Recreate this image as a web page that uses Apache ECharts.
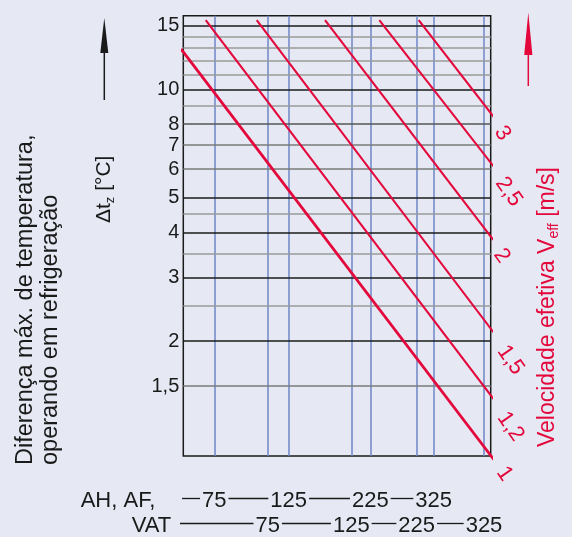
<!DOCTYPE html>
<html>
<head>
<meta charset="utf-8">
<script src="https://cdn.jsdelivr.net/npm/echarts@6/dist/echarts.min.js"></script>
<style>
html, body { margin: 0; padding: 0; background: #e6e9f3; }
#chart { width: 572px; height: 537px; }
</style>
</head>
<body>
<div id="chart"></div>
<script>
// eixo y (log): linhas com rótulo e linhas auxiliares
var yTicks = [1.5, 2, 3, 4, 5, 6, 7, 8, 10, 15];
var yTickLabels = ['1,5', '2', '3', '4', '5', '6', '7', '8', '10', '15'];
var yMajor = [2, 3, 4, 5, 10, 15];
var yMinor = [2.5, 3.5, 4.5, 9, 11, 12, 13, 14];

// escalas de baixo (posição no eixo x de 0 a 100)
var ahValues = ['75', '125', '225', '325'];
var ahPos = [10.08, 34.29, 60.83, 81.46];
var vatValues = ['75', '125', '225', '325'];
var vatPos = [27.46, 54.65, 75.93, 97.82];

// retas de velocidade efetiva
var velocities = ['1', '1,2', '1,5', '2', '2,5', '3'];
var lineStart = [[-0.75, 12.94], [7.29, 15.56], [23.88, 15.56], [46.1, 15.56], [63.76, 15.56], [76.58, 15.56]];
var lineEnd = [[102.05, 0.913], [101.95, 1.346], [101.95, 2.06], [100.85, 3.82], [101.4, 6.04], [101.07, 8.36]];

var font = '"Liberation Sans", Arial, sans-serif';
var red = '#e3073c';
var ink = '#1a1a1a';

var chart = echarts.init(document.getElementById('chart'));

var hLines = [];
yTicks.forEach(function (v, i) {
    var major = yMajor.indexOf(v) >= 0;
    hLines.push({
        yAxis: v,
        lineStyle: { color: major ? ink : (v === 8 ? '#555' : '#7a7a7a'), width: 1.5 },
        label: { show: true, formatter: yTickLabels[i] }
    });
});
yMinor.forEach(function (v) {
    hLines.push({ yAxis: v, lineStyle: { color: '#9a9a9a', width: 1.5 }, label: { show: false } });
});

var vLines = ahPos.concat(vatPos).map(function (v) { return { xAxis: v }; });

var series = [
    {
        type: 'line', data: [], silent: true,
        markLine: {
            silent: true, symbol: 'none', animation: false, z: 1,
            label: { show: false },
            lineStyle: { color: '#6f84c8', width: 1.5, type: 'solid' },
            data: vLines
        }
    },
    {
        type: 'line', data: [], silent: true,
        markLine: {
            silent: true, symbol: 'none', animation: false, z: 2,
            label: { position: 'start', distance: 4, color: ink, fontSize: 20, fontFamily: font },
            lineStyle: { type: 'solid' },
            data: hLines
        }
    }
];

velocities.forEach(function (v, i) {
    series.push({
        type: 'line',
        name: v,
        z: 10,
        clip: false,
        silent: true,
        animation: false,
        symbol: 'circle',
        symbolSize: 0.01,
        showSymbol: true,
        itemStyle: { color: red },
        lineStyle: { color: red, width: i === 0 ? 2.7 : 2.1 },
        data: [
            lineStart[i],
            {
                value: lineEnd[i],
                label: {
                    show: true, formatter: v, position: i === 0 ? [4, 5] : [5, 11], rotate: -55,
                    align: 'left', verticalAlign: 'middle',
                    color: red, fontSize: 22, fontFamily: font
                }
            }
        ]
    });
});

chart.setOption({
    backgroundColor: '#e6e9f3',
    animation: false,
    grid: {
        left: 183.3, right: 81.3, top: 15.7, bottom: 81,
        show: true, borderColor: ink, borderWidth: 1.5,
        backgroundColor: 'transparent',
        containLabel: false, outerBoundsMode: 'none'
    },
    xAxis: { type: 'value', min: 0, max: 100, show: false },
    yAxis: { type: 'log', logBase: 10, min: 0.96, max: 16, show: false },
    series: series
});

// textos e setas
var ctx = document.createElement('canvas').getContext('2d');
ctx.font = '22px ' + font;
function tw(t) { return ctx.measureText(t).width; }
function px(v) { return chart.convertToPixel({ xAxisIndex: 0 }, v); }

var g = [];
g.push({
    type: 'text', x: 13, y: 465, rotation: Math.PI / 2,
    style: {
        text: 'Diferença máx. de temperatura,\noperando em refrigeração',
        fontSize: 23.5, fontFamily: font, fill: ink,
        align: 'left', verticalAlign: 'top', lineHeight: 25
    }
});
g.push({
    type: 'text', x: 104, y: 223, rotation: Math.PI / 2,
    style: {
        text: '{n|Δt}{s|z}{n| [°C]}',
        fill: ink, align: 'left', verticalAlign: 'middle',
        rich: {
            n: { fontSize: 21, fontFamily: font, fill: ink },
            s: { fontSize: 13, fontFamily: font, fill: ink, padding: [12, 0, 0, 0] }
        }
    }
});
g.push({
    type: 'text', x: 548, y: 447, rotation: Math.PI / 2,
    style: {
        text: '{n|Velocidade efetiva V}{s|eff}{n| [m/s]}',
        fill: red, align: 'left', verticalAlign: 'middle',
        rich: {
            n: { fontSize: 23, fontFamily: font, fill: red },
            s: { fontSize: 14, fontFamily: font, fill: red, padding: [12, 0, 0, 0] }
        }
    }
});
// setas
g.push({ type: 'line', shape: { x1: 104.3, y1: 50, x2: 104.3, y2: 100 }, style: { stroke: ink, lineWidth: 1.5 } });
g.push({ type: 'polygon', shape: { points: [[104.3, 18], [100.3, 53], [108.3, 53]] }, style: { fill: ink } });
g.push({ type: 'line', shape: { x1: 528.3, y1: 52, x2: 528.3, y2: 86 }, style: { stroke: red, lineWidth: 1.5 } });
g.push({ type: 'polygon', shape: { points: [[528.3, 12.5], [524.2, 55], [532.4, 55]] }, style: { fill: red } });

function row(label, labelX, values, pos, y, dashStart) {
    g.push({ type: 'text', x: labelX, y: y, style: { text: label, fontSize: 22, fontFamily: font, fill: ink, align: 'left', verticalAlign: 'middle' } });
    var prev = dashStart;
    values.forEach(function (v, i) {
        var cx = px(pos[i]);
        var hw = tw(v) / 2;
        g.push({ type: 'line', shape: { x1: prev, y1: y - 2.5, x2: cx - hw - 2, y2: y - 2.5 }, style: { stroke: ink, lineWidth: 1.3 } });
        g.push({ type: 'text', x: cx, y: y, style: { text: v, fontSize: 22, fontFamily: font, fill: ink, align: 'center', verticalAlign: 'middle' } });
        prev = cx + hw + 2;
    });
}
row('AH, AF,', 80.7, ahValues, ahPos, 501, 182);
row('VAT', 131.7, vatValues, vatPos, 526, 180);

chart.setOption({ graphic: g });
</script>
</body>
</html>
